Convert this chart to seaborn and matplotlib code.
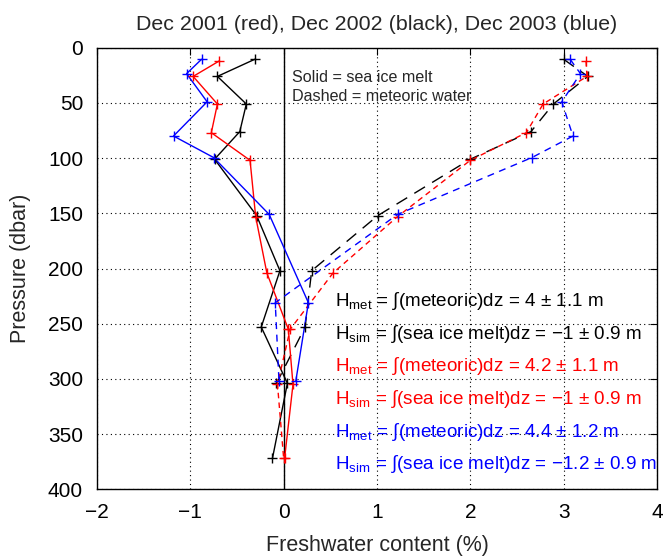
import matplotlib
matplotlib.use("Agg")
import matplotlib.pyplot as plt
import seaborn as sns
import pandas as pd

sns.set_style("white")
plt.rcParams["font.family"] = ["Liberation Sans", "DejaVu Sans"]
plt.rcParams["mathtext.fontset"] = "custom"
plt.rcParams["mathtext.rm"] = "Liberation Sans"
plt.rcParams["mathtext.it"] = "Liberation Sans:italic"

# Pressure levels (dbar) of each December profile
p_2001 = [12, 26, 51, 77, 102, 153, 204, 255, 305, 372]
p_2002 = [10.5, 26, 51, 76, 101, 152, 202, 253, 304, 372]
p_2003 = [10.5, 23.5, 49, 80, 99.5, 151, 231, 302]

# Sea ice melt fraction (%)
sim_2001 = [-0.69, -0.97, -0.71, -0.775, -0.36, -0.30, -0.18, 0.05, 0.10, 0.01]
sim_2002 = [-0.31, -0.71, -0.40, -0.47, -0.74, -0.29, -0.04, -0.24, 0.04, -0.12]
sim_2003 = [-0.88, -1.04, -0.82, -1.18, -0.75, -0.155, 0.265, 0.13]

# Meteoric water fraction (%)
met_2001 = [3.24, 3.25, 2.78, 2.60, 2.00, 1.22, 0.53, 0.07, -0.066, 0.0]
met_2002 = [3.00, 3.26, 2.89, 2.65, 2.00, 1.01, 0.30, 0.23, -0.077]
met_2003 = [3.07, 3.18, 2.98, 3.10, 2.66, 1.22, -0.09, -0.05]

# Integrated freshwater inventories
inventory_lines = [
    (r"H$_{\mathregular{met}}$ = ∫(meteoric)dz = 4 ± 1.1 m", "black"),
    (r"H$_{\mathregular{sim}}$ = ∫(sea ice melt)dz = −1 ± 0.9 m", "black"),
    (r"H$_{\mathregular{met}}$ = ∫(meteoric)dz = 4.2 ± 1.1 m", "red"),
    (r"H$_{\mathregular{sim}}$ = ∫(sea ice melt)dz = −1 ± 0.9 m", "red"),
    (r"H$_{\mathregular{met}}$ = ∫(meteoric)dz = 4.4 ± 1.2 m", "blue"),
    (r"H$_{\mathregular{sim}}$ = ∫(sea ice melt)dz = −1.2 ± 0.9 m", "blue"),
]

fig = plt.figure(figsize=(6.63, 5.58), dpi=100)
ax = fig.add_axes([0.1463, 0.1231, 0.8446, 0.7914])

ax.axvline(0, color="black", lw=1.0, zorder=1)

profiles = [
    (p_2002, sim_2002, met_2002, "black", (0, (9, 6))),
    (p_2001, sim_2001, met_2001, "red", (0, (4, 3))),
    (p_2003, sim_2003, met_2003, "blue", (0, (5, 4))),
]
for p, sim, met, col, dash in profiles:
    d_sim = pd.DataFrame({"fw": sim, "p": p})
    d_met = pd.DataFrame({"fw": met, "p": p[:len(met)]})
    for d, ls in ((d_sim, "-"), (d_met, dash)):
        sns.lineplot(data=d, x="fw", y="p", sort=False, estimator=None,
                     color=col, lw=1.0, linestyle=ls, ax=ax, zorder=3)
        sns.scatterplot(data=d, x="fw", y="p", marker="+", s=55,
                        color=col, linewidth=1.0, ax=ax, zorder=4)

ax.set_xlim(-2, 4)
ax.set_ylim(400, 0)
ax.set_xticks(range(-2, 5))
ax.set_yticks(range(0, 401, 50))
ax.set_xticklabels(["−2", "−1", "0", "1", "2", "3", "4"])
ax.grid(True, color="black", linestyle=(0, (1, 3)), linewidth=0.8)
ax.tick_params(direction="in", length=5, width=0.8, top=True, right=True,
               labelsize=15, pad=10, colors="black")
for s in ax.spines.values():
    s.set_visible(True)
    s.set_color("black")
    s.set_linewidth(1.0)

ax.set_xlabel("Freshwater content (%)", fontsize=15.5, labelpad=9)
ax.set_ylabel("Pressure (dbar)", fontsize=15.5, labelpad=12)
ax.set_title("Dec 2001 (red), Dec 2002 (black), Dec 2003 (blue)",
             fontsize=15.4, pad=13)

ax.text(0.085, 27, "Solid = sea ice melt", fontsize=11.6, va="center")
ax.text(0.085, 44.5, "Dashed = meteoric water", fontsize=11.6, va="center")

y0 = 229.5
for i, (txt, col) in enumerate(inventory_lines):
    ax.text(0.55, y0 + i * 29.6, txt, color=col, fontsize=13.6, va="center",
            zorder=5)

fig.savefig("out.png", dpi=100)
